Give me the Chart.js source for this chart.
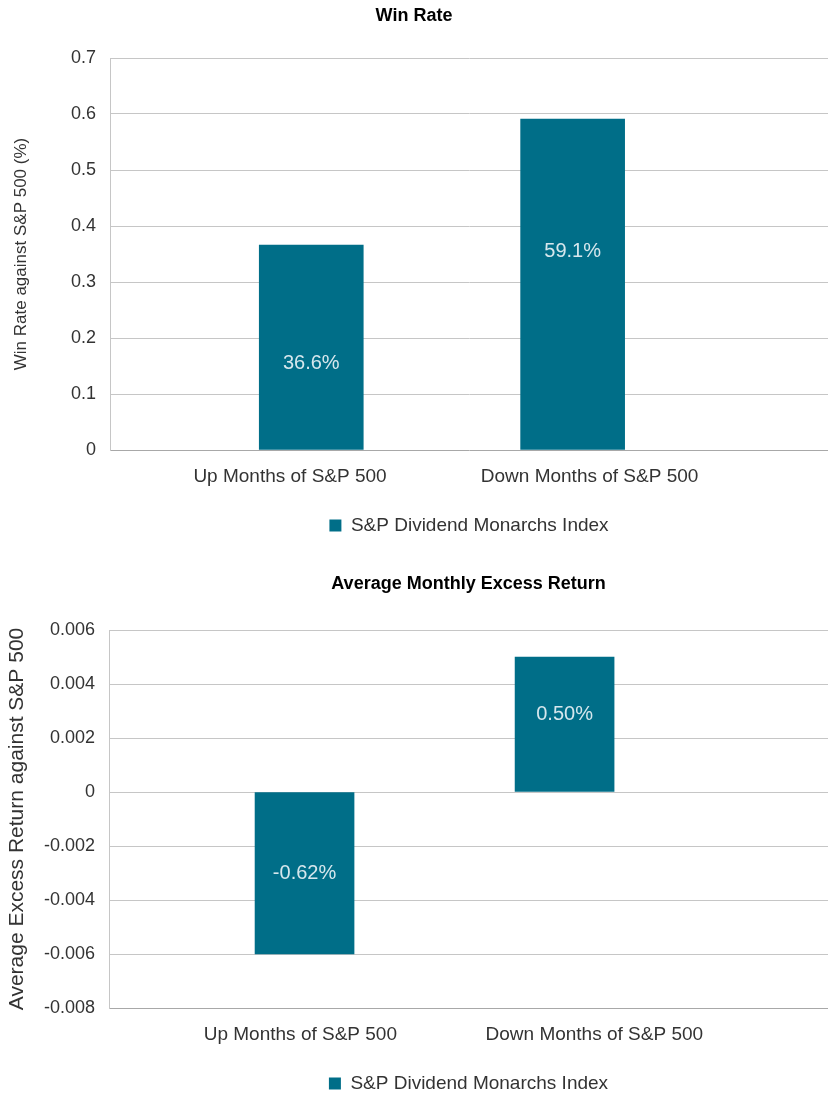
<!DOCTYPE html>
<html><head><meta charset="utf-8">
<script src="https://cdn.jsdelivr.net/npm/chart.js@4/dist/chart.umd.min.js"></script>
<style>
html,body{margin:0;padding:0;background:#fff}
body{width:828px;height:1095px;overflow:hidden;position:relative}
.box{position:absolute;left:0;width:828px}
</style></head><body>
<div class="box" style="top:0;height:550px"><canvas id="c1"></canvas></div>
<div class="box" style="top:560px;height:543px"><canvas id="c2"></canvas></div>
<script>
// ---- data ----
const categories = ['Up Months of S&P 500', 'Down Months of S&P 500'];
const seriesName = 'S&P Dividend Monarchs Index';
const winRate = [0.366, 0.591];
const winRateLabels = ['36.6%', '59.1%'];
const excessReturn = [-0.006, 0.005];
const excessReturnLabels = ['-0.62%', '0.50%'];
const winRateAxis = { min: 0, max: 0.7, step: 0.1 };
const excessAxis = { min: -0.008, max: 0.006, step: 0.002 };

// ---- styles ----
const FONT = "'Liberation Sans', Arial, sans-serif";
const BAR = '#006e88';
const TXT = '#333333';
const GRID = '#c6c6c6';
const GRID_DARK = '#a8a8a8';

const valueLabels = {
  id: 'valueLabels',
  afterDatasetsDraw(chart, args, opts) {
    const ctx = chart.ctx;
    const meta = chart.getDatasetMeta(0);
    ctx.save();
    ctx.font = `${opts.size}px ${FONT}`;
    ctx.fillStyle = '#d6e7ed';
    ctx.textAlign = 'center';
    ctx.textBaseline = 'middle';
    meta.data.forEach((bar, i) => {
      const top = Math.min(bar.y, bar.base), bottom = Math.max(bar.y, bar.base);
      ctx.fillText(opts.texts[i], bar.x, top + (bottom - top) * opts.pos[i]);
    });
    ctx.restore();
  }
};

function tickFmt(v) {
  if (Math.abs(v) < 1e-12) return '0';
  return String(+v.toFixed(4));
}

function makeChart(id, o) {
  const data = o.values.map((v, i) => ({ x: i, y: v }));
  return new Chart(document.getElementById(id), {
    type: 'bar',
    data: {
      datasets: [{
        label: seriesName, data,
        backgroundColor: BAR, borderWidth: 0,
        barThickness: o.barW
      }]
    },
    options: {
      responsive: true, maintainAspectRatio: false, animation: false,
      layout: { padding: { left: 0, right: 0, top: 0, bottom: o.padBottom } },
      plugins: {
        title: {
          display: true, text: o.title, color: '#000', fullSize: o.titleFull,
          font: { family: FONT, size: 18, weight: 'bold' },
          padding: { top: o.titleTop, bottom: o.titleBottom }
        },
        legend: {
          position: 'bottom', fullSize: false,
          labels: { boxWidth: 12, boxHeight: 12, color: TXT, padding: 4,
                    font: { family: FONT, size: 19 } }
        },
        tooltip: { enabled: false },
        valueLabels: { texts: o.labels, pos: o.labelPos, size: 20 }
      },
      scales: {
        x: { type: 'linear', display: false, bounds: 'data', offset: false,
             min: o.barMin, max: o.barMax },
        xl: {
          type: 'linear', position: 'bottom', bounds: 'data', offset: false,
          min: o.catMin, max: o.catMax,
          afterBuildTicks: s => { s.ticks = categories.map((c, i) => ({ value: i })); },
          afterFit: s => { s.height = o.catH; },
          ticks: { callback: (v, i) => categories[i], color: TXT, padding: o.catPad,
                   font: { family: FONT, size: 19 }, maxRotation: 0, minRotation: 0, autoSkip: false },
          grid: { display: false, drawTicks: false },
          border: { display: false }
        },
        y: {
          min: o.axis.min, max: o.axis.max,
          afterFit: s => { s.width = o.yW; },
          ticks: { stepSize: o.axis.step, callback: tickFmt, color: TXT, padding: 14,
                   font: { family: FONT, size: 18 } },
          grid: {
            drawTicks: false,
            color: c => (c.tick && Math.abs(c.tick.value - o.axis.min) < 1e-9) ? GRID_DARK : GRID
          },
          border: { display: true, color: GRID },
          title: { display: true, text: o.yTitle, color: TXT,
                   font: { family: FONT, size: o.yTitleSize }, padding: { top: o.yTitlePad, bottom: 0 } }
        }
      }
    },
    plugins: [valueLabels]
  });
}

makeChart('c1', {
  title: 'Win Rate', titleFull: true, values: winRate, labels: winRateLabels, labelPos: [0.58, 0.40],
  axis: winRateAxis, yTitle: 'Win Rate against S&P 500 (%)', yTitleSize: 17, yTitlePad: 11,
  yW: 110, barW: 104, barMin: -0.770, barMax: 1.977, catMin: -0.601, catMax: 1.796,
  titleTop: 5, titleBottom: 31.4, padBottom: 5, catPad: 15, catH: 62
});
makeChart('c2', {
  title: 'Average Monthly Excess Return', titleFull: false, values: excessReturn, labels: excessReturnLabels, labelPos: [0.5, 0.43],
  axis: excessAxis, yTitle: 'Average Excess Return against S&P 500', yTitleSize: 21, yTitlePad: 5,
  yW: 109, barW: 99, barMin: -0.752, barMax: 2.013, catMin: -0.651, catMax: 1.795,
  titleTop: 13.2, titleBottom: 35.2, padBottom: 0, catPad: 15, catH: 62
});
</script>
</body></html>
